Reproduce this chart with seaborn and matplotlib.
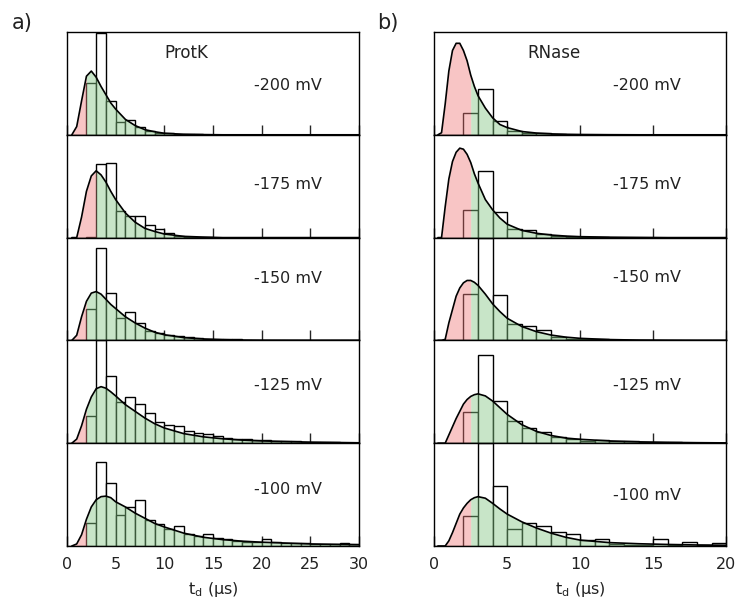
import numpy as np
import pandas as pd
import seaborn as sns
import matplotlib.pyplot as plt

sns.set_style('ticks', {'axes.edgecolor': 'black', 'xtick.direction': 'in'})
plt.rcParams['font.family'] = ['DejaVu Sans']

voltages = ['-200 mV', '-175 mV', '-150 mV', '-125 mV', '-100 mV']

# histogram heights (1 us bins, first bin 0-1 us), panel height = 1
protk_counts = [
    [0, 0, 0.50, 0.99, 0.33, 0.12, 0.14, 0.08, 0.04, 0.02, 0.02, 0.01, 0.005, 0.005, 0, 0, 0, 0, 0, 0,
     0, 0, 0, 0, 0, 0, 0, 0, 0, 0],
    [0, 0, 0.01, 0.72, 0.725, 0.255, 0.21, 0.21, 0.12, 0.087, 0.04, 0.015, 0.01, 0.005, 0.005, 0, 0, 0, 0, 0,
     0, 0, 0, 0, 0, 0, 0, 0, 0, 0],
    [0, 0, 0.31, 0.90, 0.46, 0.22, 0.275, 0.17, 0.087, 0.07, 0.05, 0.04, 0.03, 0.02, 0.015, 0.012, 0.01, 0.01,
     0.008, 0.006, 0.005, 0.004, 0.003, 0.003, 0.002, 0, 0, 0, 0, 0],
    [0, 0, 0.265, 1.0, 0.65, 0.40, 0.45, 0.38, 0.29, 0.21, 0.18, 0.165, 0.12, 0.10, 0.087, 0.068, 0.055, 0.045,
     0.04, 0.035, 0.03, 0.025, 0.02, 0.017, 0.014, 0.012, 0.01, 0.008, 0.006, 0.005],
    [0, 0, 0.22, 0.82, 0.615, 0.30, 0.38, 0.45, 0.25, 0.21, 0.17, 0.195, 0.113, 0.097, 0.113, 0.075, 0.065,
     0.052, 0.042, 0.039, 0.065, 0.042, 0.032, 0.03, 0.026, 0.023, 0.02, 0.016, 0.026, 0.016],
]
rnase_counts = [
    [0, 0, 0.21, 0.445, 0.13, 0.035, 0.015, 0.02, 0.01, 0, 0, 0, 0, 0, 0, 0, 0, 0, 0, 0],
    [0, 0, 0.27, 0.65, 0.25, 0.08, 0.071, 0.039, 0.015, 0.01, 0.005, 0.005, 0, 0, 0, 0, 0, 0, 0, 0],
    [0, 0, 0.455, 1.0, 0.44, 0.155, 0.14, 0.097, 0.036, 0.016, 0.016, 0.01, 0.005, 0, 0, 0, 0, 0, 0, 0],
    [0, 0, 0.30, 0.86, 0.41, 0.215, 0.15, 0.107, 0.058, 0.042, 0.026, 0.033, 0.02, 0.02, 0.013, 0.01, 0.01,
     0.005, 0, 0],
    [0, 0, 0.295, 1.0, 0.585, 0.17, 0.227, 0.19, 0.14, 0.117, 0.058, 0.065, 0.016, 0.01, 0.005, 0.065, 0.01,
     0.04, 0.01, 0.03],
]

# fitted distributions
protk_t = [0.5, 1.0, 1.5, 2.0, 2.5, 3.0, 3.5, 4.0, 4.5, 5, 6, 7, 8, 9, 10, 12, 14, 16, 18, 20, 25, 30]
protk_fit = [
    [0, 0.08, 0.33, 0.57, 0.62, 0.56, 0.47, 0.39, 0.31, 0.25, 0.15, 0.09, 0.05, 0.03, 0.015, 0.005, 0.002,
     0, 0, 0, 0, 0],
    [0, 0, 0.20, 0.45, 0.60, 0.65, 0.61, 0.54, 0.45, 0.37, 0.24, 0.15, 0.09, 0.06, 0.035, 0.012, 0.005,
     0, 0, 0, 0, 0],
    [0, 0.05, 0.23, 0.38, 0.46, 0.475, 0.45, 0.40, 0.35, 0.31, 0.23, 0.17, 0.12, 0.08, 0.055, 0.027, 0.014,
     0.007, 0.003, 0.001, 0, 0],
    [0, 0.04, 0.17, 0.33, 0.45, 0.53, 0.55, 0.535, 0.50, 0.46, 0.375, 0.31, 0.245, 0.19, 0.148, 0.093, 0.062,
     0.043, 0.03, 0.022, 0.01, 0.004],
    [0, 0.02, 0.11, 0.26, 0.38, 0.45, 0.48, 0.485, 0.47, 0.43, 0.38, 0.32, 0.27, 0.22, 0.185, 0.125, 0.085,
     0.062, 0.047, 0.037, 0.02, 0.012],
]
rnase_t = [0.25, 0.5, 0.75, 1.0, 1.25, 1.5, 1.75, 2.0, 2.25, 2.5, 2.75, 3.0, 3.5, 4.0, 4.5, 5, 6, 7, 8, 9,
           10, 12, 14, 16, 18, 20]
rnase_fit = [
    [0, 0.02, 0.30, 0.62, 0.82, 0.89, 0.89, 0.82, 0.72, 0.58, 0.47, 0.38, 0.26, 0.165, 0.10, 0.07, 0.032,
     0.017, 0.009, 0.005, 0.003, 0.001, 0, 0, 0, 0],
    [0, 0, 0.30, 0.57, 0.74, 0.83, 0.87, 0.86, 0.81, 0.73, 0.62, 0.53, 0.37, 0.27, 0.19, 0.13, 0.07, 0.042,
     0.025, 0.015, 0.009, 0.004, 0.002, 0, 0, 0],
    [0, 0, 0.01, 0.17, 0.30, 0.43, 0.51, 0.56, 0.583, 0.583, 0.565, 0.535, 0.45, 0.355, 0.28, 0.215, 0.135,
     0.085, 0.052, 0.032, 0.02, 0.008, 0.003, 0.001, 0, 0],
    [0, 0, 0, 0.08, 0.16, 0.24, 0.31, 0.38, 0.425, 0.455, 0.472, 0.48, 0.46, 0.41, 0.345, 0.28, 0.18, 0.115,
     0.075, 0.05, 0.038, 0.022, 0.013, 0.008, 0.005, 0.003],
    [0, 0, 0, 0.05, 0.13, 0.22, 0.31, 0.37, 0.415, 0.45, 0.47, 0.48, 0.465, 0.415, 0.36, 0.31, 0.235, 0.175,
     0.125, 0.085, 0.057, 0.033, 0.022, 0.015, 0.01, 0.007],
]
protk_cut = [2, 3, 2, 2, 2]
rnase_cut = [2.5, 2.5, 2.5, 2.5, 2.5]

fig = plt.figure(figsize=(7.36, 5.99), dpi=100)

columns = [
    (0.091, 30, protk_counts, protk_t, protk_fit, protk_cut, 'ProtK', [54, 50, 41, 45, 46], 0.757),
    (0.590, 20, rnase_counts, rnase_t, rnase_fit, rnase_cut, 'RNase', [54, 50, 40, 45, 52], 0.730),
]
width = 292 / 736
bottom = 1 - 546 / 599
h = (546 - 32) / 599 / 5

for left, xmax, counts, t, fits, cuts, name, text_y, text_x in columns:
    centers = np.arange(xmax) + 0.5
    t = np.array(t)
    for i in range(5):
        ax = fig.add_axes([left, bottom + (4 - i) * h, width, h])
        ax.set_axisbelow(True)
        hist = pd.DataFrame({'td': centers, 'w': counts[i]})
        sns.histplot(data=hist, x='td', weights='w', binwidth=1, binrange=(0, xmax),
                     color='white', edgecolor='black', linewidth=1.0, alpha=1, ax=ax)
        y = np.array(fits[i])
        ax.fill_between(t, y, where=t <= cuts[i], color='#f08080', alpha=0.45, lw=0)
        ax.fill_between(t, y, where=t >= cuts[i], color='#85c785', alpha=0.45, lw=0)
        sns.lineplot(x=t, y=y, color='black', lw=1.2, estimator=None, sort=False, ax=ax)
        ax.set_xlim(0, xmax)
        ax.set_ylim(0, 1.0)
        ax.set_yticks([])
        ax.set_ylabel('')
        ax.set_xticks(range(0, xmax + 1, 5))
        ax.tick_params(axis='x', direction='in', length=7, width=1, pad=8, labelsize=11.5,
                       bottom=True, top=False, labelcolor='#222222', labelbottom=(i == 4))
        for s in ax.spines.values():
            s.set_linewidth(1.0)
            s.set_color('black')
        ax.text(text_x, 1 - text_y[i] / 103, voltages[i], transform=ax.transAxes,
                ha='center', va='center', fontsize=11.5, color='#222222')
        if i == 0:
            ax.text(0.41, 0.80, name, transform=ax.transAxes, ha='center', va='center',
                    fontsize=12, color='#222222')
        if i == 4:
            ax.set_xlabel(r'$\mathregular{t_d}$ (µs)', fontsize=11.5, labelpad=6, color='#222222')
        else:
            ax.set_xlabel('')

fig.text(0.016, 0.962, 'a)', fontsize=15, va='center', ha='left', color='#222222')
fig.text(0.513, 0.962, 'b)', fontsize=15, va='center', ha='left', color='#222222')

fig.savefig('out.png', dpi=100)
